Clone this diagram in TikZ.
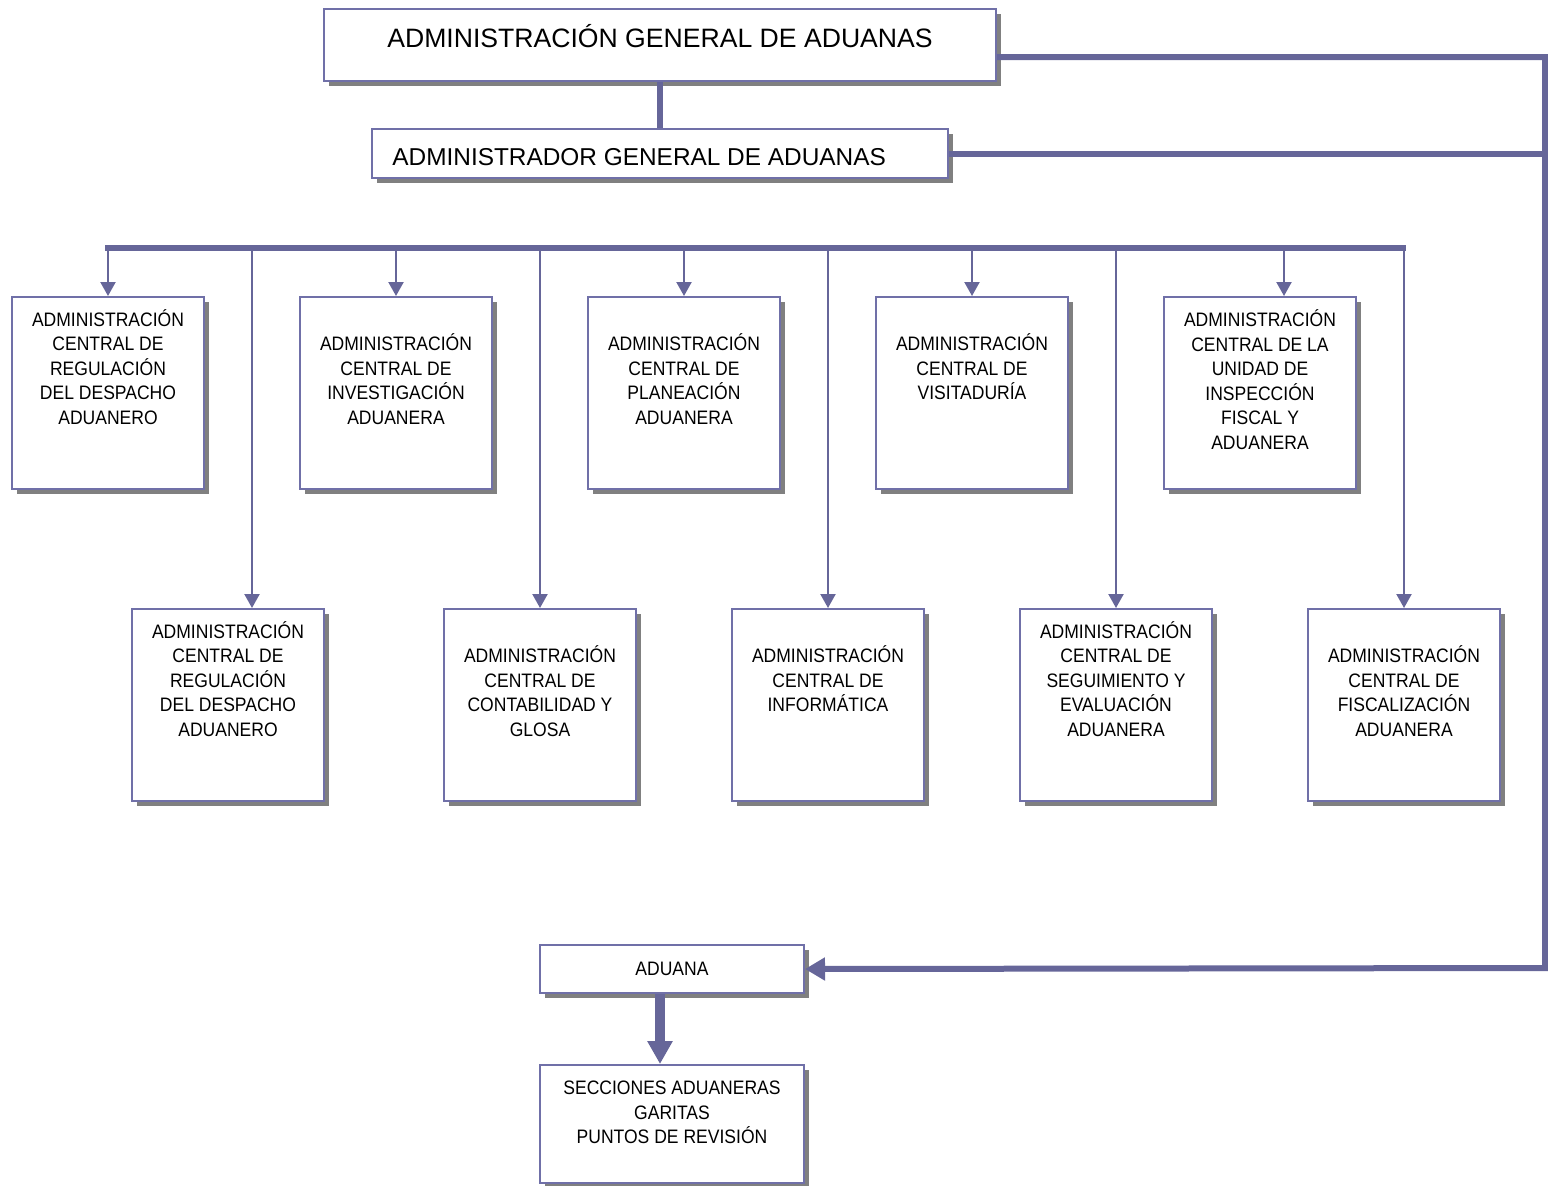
\documentclass[tikz,border=0pt]{standalone}
\usepackage{fontspec}
\setmainfont[FakeStretch=0.9]{Liberation Sans}
\newfontfamily\titlefont{Liberation Sans}
\usetikzlibrary{arrows.meta,shadows}
\definecolor{linea}{RGB}{102,102,153}
\definecolor{borde}{RGB}{112,112,168}
\begin{document}
\begin{tikzpicture}[x=0.5pt,y=-0.5pt,
    caja/.style={draw=borde, line width=1pt, fill=white, inner sep=0pt,
      drop shadow={shadow xshift=2.5pt, shadow yshift=-2.5pt, fill=black!50, opacity=1}},
    unidad/.style={caja, minimum width=96pt, minimum height=96pt},
    texto/.style={align=center, inner sep=0pt, font=\fontsize{9.74}{12.25}\selectfont},
    tronco/.style={draw=linea, line width=3pt},
    baja/.style={draw=linea, line width=1.1pt, -{Triangle[width=7.5pt,length=7pt]}}]
    \useasboundingbox (0,0) rectangle (1548,1185);
    % cabeza
    \node[caja, minimum width=336pt, minimum height=36pt] (aga) at (660,45) {};
    \node[inner sep=0pt, font=\titlefont\fontsize{13.3}{16}\selectfont] (t-aga) at (660,36) {ADMINISTRACIÓN GENERAL DE ADUANAS};
    \node[caja, minimum width=288pt, minimum height=24.5pt] (adg) at (660,153.5) {};
    \node[inner sep=0pt, anchor=west, font=\titlefont\fontsize{12.2}{15}\selectfont] (t-adg) at ([xshift=10.5pt,yshift=-1.75pt]adg.west) {ADMINISTRADOR GENERAL DE ADUANAS};
    % fila de arriba
    \node[unidad] (acrd) at (108,393) {};
    \node[texto] (t-acrd) at ([yshift=-35.5pt]acrd.north) {ADMINISTRACIÓN\\CENTRAL DE\\REGULACIÓN\\DEL DESPACHO\\ADUANERO};
    \node[unidad] (acia) at (396,393) {};
    \node[texto] (t-acia) at ([yshift=-41.5pt]acia.north) {ADMINISTRACIÓN\\CENTRAL DE\\INVESTIGACIÓN\\ADUANERA};
    \node[unidad] (acpa) at (684,393) {};
    \node[texto] (t-acpa) at ([yshift=-41.5pt]acpa.north) {ADMINISTRACIÓN\\CENTRAL DE\\PLANEACIÓN\\ADUANERA};
    \node[unidad] (acv) at (972,393) {};
    \node[texto] (t-acv) at ([yshift=-35.5pt]acv.north) {ADMINISTRACIÓN\\CENTRAL DE\\VISITADURÍA};
    \node[unidad] (acuifa) at (1260,393) {};
    \node[texto] (t-acuifa) at ([yshift=-41.75pt]acuifa.north) {ADMINISTRACIÓN\\CENTRAL DE LA\\UNIDAD DE\\INSPECCIÓN\\FISCAL Y\\ADUANERA};
    % fila de abajo
    \node[unidad] (acrd2) at (228,705) {};
    \node[texto] (t-acrd2) at ([yshift=-35.5pt]acrd2.north) {ADMINISTRACIÓN\\CENTRAL DE\\REGULACIÓN\\DEL DESPACHO\\ADUANERO};
    \node[unidad] (accg) at (540,705) {};
    \node[texto] (t-accg) at ([yshift=-41.5pt]accg.north) {ADMINISTRACIÓN\\CENTRAL DE\\CONTABILIDAD Y\\GLOSA};
    \node[unidad] (aci) at (828,705) {};
    \node[texto] (t-aci) at ([yshift=-35.5pt]aci.north) {ADMINISTRACIÓN\\CENTRAL DE\\INFORMÁTICA};
    \node[unidad] (acsea) at (1116,705) {};
    \node[texto] (t-acsea) at ([yshift=-35.5pt]acsea.north) {ADMINISTRACIÓN\\CENTRAL DE\\SEGUIMIENTO Y\\EVALUACIÓN\\ADUANERA};
    \node[unidad] (acfa) at (1404,705) {};
    \node[texto] (t-acfa) at ([yshift=-41.5pt]acfa.north) {ADMINISTRACIÓN\\CENTRAL DE\\FISCALIZACIÓN\\ADUANERA};
    % aduanas
    \node[caja, minimum width=132pt, minimum height=24pt] (adu) at (672,969) {};
    \node[texto] (t-adu) at (adu) {ADUANA};
    \node[caja, minimum width=132pt, minimum height=59pt] (secc) at (672,1124) {};
    \node[texto] (t-secc) at ([yshift=-24.25pt]secc.north) {SECCIONES ADUANERAS\\GARITAS\\PUNTOS DE REVISIÓN};
    % lineas
    \coordinate (bus-l) at (105,248);
    \coordinate (bus-r) at (1406,248);
    \coordinate (riel) at (1545,968);
    \draw[tronco] (aga.south) -- (adg.north);
    \draw[tronco] (bus-l) -- (bus-r);
    \draw[tronco, -{Triangle[width=11pt,length=10pt]}] ([yshift=-6pt]aga.east) -| (riel) -- (adu.east);
    \draw[tronco] (adg.east) -- (adg.east -| riel);
    \draw[baja] (acrd.north |- bus-l) -- (acrd.north);
    \draw[baja] (acia.north |- bus-l) -- (acia.north);
    \draw[baja] (acpa.north |- bus-l) -- (acpa.north);
    \draw[baja] (acv.north |- bus-l) -- (acv.north);
    \draw[baja] ([xshift=12pt]acuifa.north |- bus-l) -- ([xshift=12pt]acuifa.north);
    \draw[baja] ([xshift=12pt]acrd2.north |- bus-l) -- ([xshift=12pt]acrd2.north);
    \draw[baja] (accg.north |- bus-l) -- (accg.north);
    \draw[baja] (aci.north |- bus-l) -- (aci.north);
    \draw[baja] (acsea.north |- bus-l) -- (acsea.north);
    \draw[baja] (acfa.north |- bus-l) -- (acfa.north);
    \draw[linea, line width=5pt, -{Triangle[width=12pt,length=11.5pt]}] ([xshift=-6pt]adu.south) -- ([xshift=-6pt]secc.north);
\end{tikzpicture}
\end{document}
